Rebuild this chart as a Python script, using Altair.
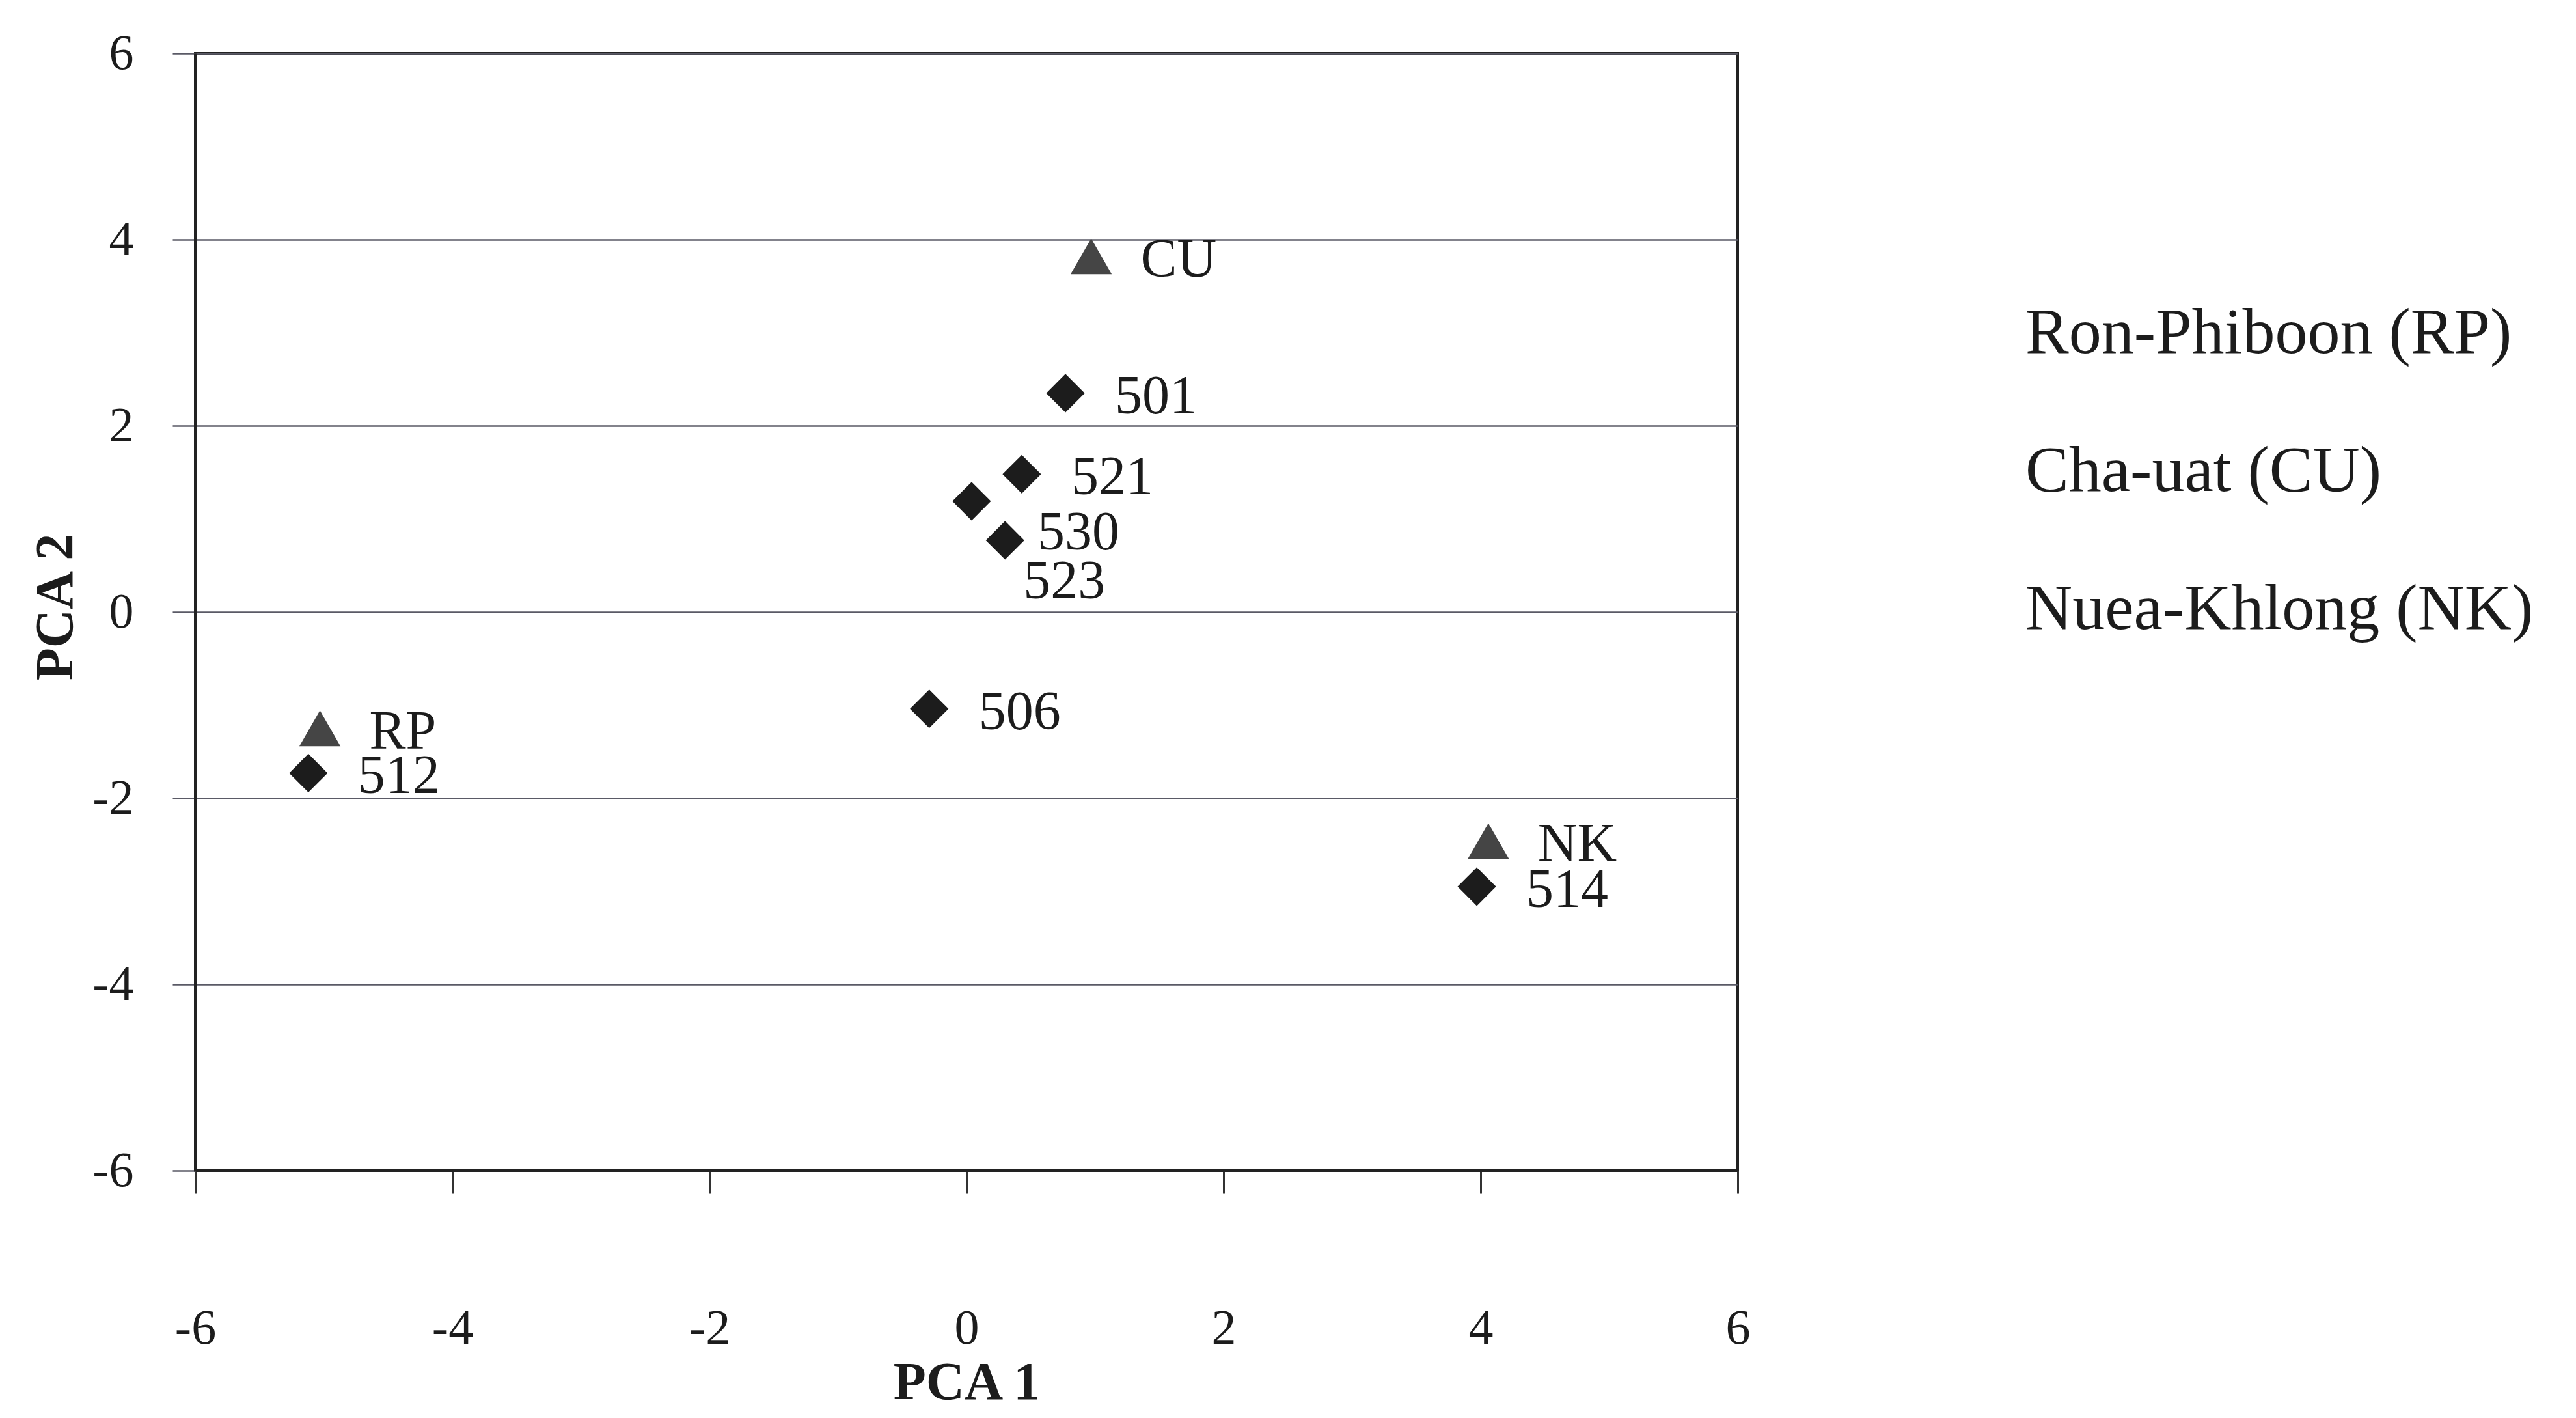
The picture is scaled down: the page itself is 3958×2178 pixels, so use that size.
import altair as alt
import pandas as pd

# Samples (diamonds)
sample_ids = ["501", "521", "530", "523", "506", "512", "514"]
sample_pca1 = [0.77, 0.43, 0.04, 0.30, -0.29, -5.12, 3.97]
sample_pca2 = [2.35, 1.48, 1.19, 0.77, -1.04, -1.73, -2.95]

# Populations (triangles)
pop_codes = ["RP", "CU", "NK"]
pop_names = ["Ron-Phiboon (RP)", "Cha-uat (CU)", "Nuea-Khlong (NK)"]
pop_pca1 = [-5.03, 0.97, 4.06]
pop_pca2 = [-1.25, 3.82, -2.46]

axis_ticks = [-6, -4, -2, 0, 2, 4, 6]

samples = pd.DataFrame({"id": sample_ids, "pca1": sample_pca1, "pca2": sample_pca2})
pops = pd.DataFrame({"code": pop_codes, "name": pop_names, "pca1": pop_pca1, "pca2": pop_pca2})

FONT = "Liberation Serif"
INK = "#1c1c1c"

xs = alt.Scale(domain=[-6, 6], nice=False, zero=False)
ys = alt.Scale(domain=[-6, 6], nice=False, zero=False)

x_axis = alt.Axis(
    values=axis_ticks, title="PCA 1", grid=False,
    labelExpr="'' + datum.value",
    tickSize=35, tickWidth=3, tickColor="#333",
    labelPadding=170, labelFont=FONT, labelFontSize=76, labelColor=INK,
    labelFlush=False, labelOverlap=False,
    titleFont=FONT, titleFontSize=82, titleFontWeight="bold", titleColor=INK,
    titleY=325, titleBaseline="middle",
    domainWidth=3, domainColor="#222",
)
y_axis = alt.Axis(
    values=axis_ticks, title="PCA 2", grid=True, gridColor="#5a5a66", gridWidth=2.5,
    labelExpr="'' + datum.value",
    tickSize=35, tickWidth=2.5, tickColor="#5a5a66",
    labelPadding=60, labelFont=FONT, labelFontSize=76, labelColor=INK,
    labelFlush=False, labelOverlap=False,
    titleFont=FONT, titleFontSize=82, titleFontWeight="bold", titleColor=INK,
    titleX=-215, titleY=850, titleAlign="center", titleBaseline="middle", titleAngle=-90,
    domainWidth=5, domainColor="#222",
)

X = alt.X("pca1:Q", scale=xs, axis=x_axis)
Y = alt.Y("pca2:Q", scale=ys, axis=y_axis)
Xn = alt.X("pca1:Q", scale=xs)
Yn = alt.Y("pca2:Q", scale=ys)

diamonds = alt.Chart(samples).mark_point(
    shape="diamond", filled=True, size=3500, color=INK, opacity=1
).encode(x=X, y=Y)

triangles = alt.Chart(pops).mark_point(
    shape="triangle-up", filled=True, size=4000, opacity=1
).encode(
    x=Xn, y=Yn,
    color=alt.Color(
        "name:N",
        scale=alt.Scale(domain=pop_names, range=["#454545"] * 3),
        legend=alt.Legend(
            title=None, orient="none", legendX=2712, legendY=380,
            labelFont=FONT, labelFontSize=100, labelColor=INK,
            symbolOpacity=0, symbolSize=1, symbolStrokeWidth=0,
            labelOffset=0, rowPadding=112, labelLimit=2000, padding=0,
        ),
    ),
)

txt = dict(font=FONT, fontSize=84, color=INK, align="left", baseline="middle")

sample_labels = alt.Chart(samples).transform_filter(
    "datum.id != '530' && datum.id != '523'"
).mark_text(dx=76, dy=6, **txt).encode(x=Xn, y=Yn, text="id:N")

label_530 = alt.Chart(samples).transform_filter("datum.id == '530'").mark_text(
    dx=101, dy=49, **txt).encode(x=Xn, y=Yn, text="id:N")

label_523 = alt.Chart(samples).transform_filter("datum.id == '523'").mark_text(
    dx=28, dy=64, **txt).encode(x=Xn, y=Yn, text="id:N")

pop_labels = alt.Chart(pops).mark_text(dx=76, dy=6, **txt).encode(x=Xn, y=Yn, text="code:N")

chart = alt.layer(
    diamonds, triangles, sample_labels, label_530, label_523, pop_labels
).properties(
    width=2370, height=1716,
    autosize=alt.AutoSizeParams(type="none"),
    padding={"left": 292, "top": 74, "right": 1280, "bottom": 372},
    background="white",
).configure_view(stroke="#222", strokeWidth=4)

chart.save("out.html", embed_options={"renderer": "svg", "actions": False})
